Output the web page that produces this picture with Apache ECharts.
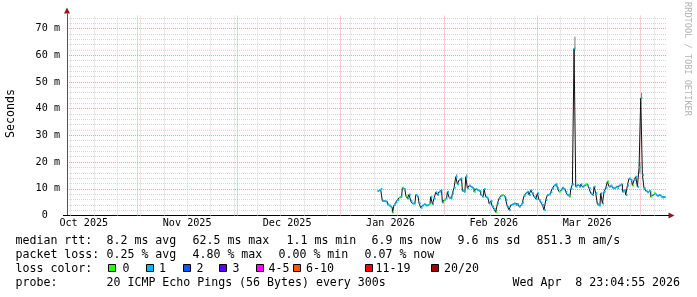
<!DOCTYPE html>
<html><head><meta charset="utf-8">
<script src="https://cdn.jsdelivr.net/npm/echarts@6.0.0/dist/echarts.min.js"></script>
<style>html,body{margin:0;padding:0;background:#fff}#c{width:697px;height:297px}</style>
</head><body><div id="c"></div>
<script>
// ---------- DATA ----------
const axisStart = '2025-10-10T23:04:55Z';
const axisEnd = '2026-04-08T23:04:55Z';
const firstSample = '2026-01-12T08:00:00Z';
const sampleStepHours = 12;

// median round-trip time per sample, in ms
const medianMs = [
  9.2, 9.5, 9.9, 5.4, 5.4, 5.2, 4.2, 3.7, 3.0, 1.1,
  3.9, 4.9, 5.8, 6.7, 7.0, 10.4, 9.9, 7.4, 6.4, 7.9,
  5.4, 4.5, 4.5, 7.7, 7.0, 4.5, 2.9, 3.7, 4.2, 3.7,
  3.9, 4.2, 7.0, 4.2, 6.4, 8.7, 7.7, 8.9, 9.5, 4.9,
  5.8, 6.4, 8.9, 6.7, 6.4, 8.3, 10.4, 14.5, 11.7, 13.3,
  13.9, 9.2, 8.9, 14.5, 10.2, 11.2, 10.8, 10.2, 8.9, 9.9,
  9.5, 9.2, 7.7, 7.0, 9.9, 7.0, 6.4, 4.5, 5.4, 3.3,
  2.4, 1.2, 4.5, 6.4, 7.4, 7.7, 7.0, 5.8, 3.3, 2.1,
  3.9, 4.2, 4.5, 3.9, 4.2, 3.3, 3.9, 4.9, 7.4, 8.3,
  8.9, 7.7, 9.5, 8.3, 7.0, 6.2, 8.3, 5.8, 4.9, 3.9,
  2.1, 5.8, 7.7, 7.9, 8.7, 10.2, 11.2, 11.7, 10.2, 8.9,
  9.5, 10.4, 9.9, 8.9, 7.7, 7.0, 9.9, 11.7, 62.5, 10.8,
  11.4, 10.8, 11.7, 10.8, 11.2, 11.7, 11.2, 10.2, 8.3, 7.7,
  10.8, 8.3, 4.2, 3.7, 8.3, 4.5, 8.9, 10.4, 12.7, 10.8,
  11.2, 10.4, 10.2, 10.8, 10.2, 11.2, 11.7, 8.9, 9.5, 7.7,
  11.2, 13.9, 13.3, 11.2, 13.3, 14.5, 10.8, 18.0, 44.0, 15.2,
  10.2, 9.2, 8.7, 9.2, 7.0, 7.7, 8.3, 7.7, 7.4, 7.7,
  7.0, 6.7, 6.9
];
// lost pings (of 20) per sample
const lossCount = [
  1,1,1,1,1,1,1,1,1,0,
  1,1,1,0,1,0,1,0,1,1,
  1,1,1,1,1,1,1,1,1,1,
  1,0,1,1,1,1,1,1,1,1,
  0,1,1,1,1,1,1,1,1,1,
  1,1,1,1,1,1,1,1,0,1,
  1,1,1,1,1,1,1,1,1,1,
  1,0,1,1,1,0,1,1,1,1,
  1,1,1,1,1,1,1,1,1,1,
  1,1,1,1,1,1,1,1,1,1,
  1,1,1,1,1,1,1,1,1,0,
  1,1,1,1,1,0,1,1,1,1,
  1,1,1,1,1,0,1,1,1,1,
  1,1,1,1,1,1,1,1,0,1,
  1,1,1,1,1,1,1,1,1,1,
  1,1,1,0,1,1,1,1,1,1,
  1,1,1,1,0,1,0,1,1,1,
  1,1,1
];
// visible smoke (ping spread) around a few samples
const smokeIdx = [47, 53, 118, 157, 158];
const smokeLo  = [14.5, 14.5, 62.5, 15.8, 44.0];
const smokeHi  = [15.4, 15.4, 67.0, 20.0, 46.0];

const monthStarts = ['2025-11-01','2025-12-01','2026-01-01','2026-02-01','2026-03-01','2026-04-01'];
const monthLabelDates = ['2025-10-16','2025-11-16','2025-12-16','2026-01-16','2026-02-16','2026-03-16'];
const monthLabels = ['Oct 2025','Nov 2025','Dec 2025','Jan 2026','Feb 2026','Mar 2026'];
const yTicks = [0, 10, 20, 30, 40, 50, 60, 70];
const yTickLabels = ['0  ', '10 m', '20 m', '30 m', '40 m', '50 m', '60 m', '70 m'];

const lossColors = ['#26ff00','#00b8ff','#0059ff','#5e00ff','#ff00ff','#ff5500','#ff0000','#a10000'];
const lossLabels = ['0','1','2','3','4-5','6-10','11-19','20/20'];

const statsRow1 = ['median rtt:', '8.2 ms avg', '62.5 ms max', '1.1 ms min', '6.9 ms now', '9.6 ms sd', '851.3 m am/s'];
const statsRow2 = ['packet loss:', '0.25 % avg', '4.80 % max', '0.00 % min', '0.07 % now'];
const statsRow3 = ['loss color:'];
const statsRow4 = ['probe:', '20 ICMP Echo Pings (56 Bytes) every 300s', 'Wed Apr  8 23:04:55 2026'];
const yAxisTitle = 'Seconds';
const watermark = 'RRDTOOL / TOBI OETIKER';

// ---------- BUILD ----------
const DAY = 86400000;
const START = Date.parse(axisStart), END = Date.parse(axisEnd);
const T0 = Date.parse(firstSample), STEP = sampleStepHours * 3600000;
const ts = medianMs.map((_, i) => T0 + i * STEP);
const monthTs = monthStarts.map(d => Date.parse(d + 'T00:00:00Z'));
const monthLabelTs = monthLabelDates.map(d => Date.parse(d + 'T00:00:00Z'));
const weekTs = [];
for (let t = Date.parse('2025-10-12T00:00:00Z'); t < END; t += 7 * DAY) {
  if (monthTs.indexOf(t) < 0) weekTs.push(t);
}

function lossClass(n) {
  if (n <= 3) return n;
  if (n <= 5) return 4;
  if (n <= 10) return 5;
  if (n <= 19) return 6;
  return 7;
}

const MONO = '"DejaVu Sans Mono", monospace';
const LEG_FS = 11.6, AX_FS = 10.15;
const Y_MAX = 75;

const graphics = [];
function txt(x, y, s) {
  graphics.push({type:'text', x, y, silent:true,
    style:{text:s, font: LEG_FS + 'px ' + MONO, fill:'#000', align:'left', verticalAlign:'middle'}});
}
const rowY = [241, 255, 269, 283.3];
const row1X = [15.5, 106.5, 192.5, 286.5, 371.5, 457.5, 536.5];
const row2X = [15.5, 106.5, 192.5, 278.5, 364.5];
const row4X = [15.5, 106.5, 512.5];
statsRow1.forEach((s, i) => txt(row1X[i], rowY[0], s));
statsRow2.forEach((s, i) => txt(row2X[i], rowY[1], s));
txt(15.5, rowY[2], statsRow3[0]);
statsRow4.forEach((s, i) => txt(row4X[i], rowY[3], s));
const boxX = [108.3, 145.7, 182.7, 219.3, 256, 292.7, 365, 430.7];
const boxLabelX = [122.5, 159, 196.5, 232.5, 268.5, 306, 375.5, 444];
lossLabels.forEach((l, i) => {
  graphics.push({type:'rect', silent:true, shape:{x: Math.round(boxX[i]) + 0.5, y: 264.5, width: 7, height: 7},
    style:{fill: lossColors[i], stroke:'#000', lineWidth:1}});
  txt(boxLabelX[i], rowY[2], l);
});
graphics.push({type:'text', x: 10.5, y: 113.5, rotation: Math.PI/2, silent:true,
  style:{text: yAxisTitle, font: LEG_FS + 'px ' + MONO, fill:'#000', align:'center', verticalAlign:'middle'}});
graphics.push({type:'text', x: 687.5, y: 59, rotation: -Math.PI/2, silent:true,
  style:{text: watermark, font: '8.6px ' + MONO, fill:'#b4b4b4', align:'center', verticalAlign:'middle'}});
graphics.push({type:'polygon', silent:true, shape:{points:[[64,13.5],[70,13.5],[67,7.5]]}, style:{fill:'#8b1a1a'}});
graphics.push({type:'polygon', silent:true, shape:{points:[[668.5,212.5],[668.5,218.5],[674.5,215.5]]}, style:{fill:'#8b1a1a'}});
graphics.push({type:'line', silent:true, shape:{x1:67.5, y1:13.5, x2:67.5, y2:16}, style:{stroke:'#555', lineWidth:1}});
graphics.push({type:'line', silent:true, shape:{x1:63, y1:215.5, x2:669, y2:215.5}, style:{stroke:'#000', lineWidth:1}});

const gridGray = '#d6d6d6', gridRed = '#f0a0a0';
function vline(color) {
  return (p, api) => {
    const a = api.coord([api.value(0), 0]);
    const b = api.coord([api.value(0), Y_MAX]);
    const x = Math.round(a[0]) + 0.5;
    return {type:'line', silent:true, shape:{x1:x, y1:a[1], x2:x, y2:b[1]},
      style:{stroke: color, lineWidth:1, lineDash:[1,1]}};
  };
}

const chart = echarts.init(document.getElementById('c'), null, {renderer:'canvas'});
chart.setOption({
  animation: false,
  backgroundColor: '#fff',
  grid: {left: 67, right: 30, top: 15.2, bottom: 81.5},
  xAxis: [
    {type:'value', min:START, max:END, position:'bottom',
     axisLine:{show:true, onZero:false, lineStyle:{color:'#000', width:1}},
     axisTick:{show:false},
     axisLabel:{customValues: monthLabelTs, formatter: v => { const k = monthLabelTs.indexOf(v); return k >= 0 ? monthLabels[k] : ''; },
       fontFamily: MONO, fontSize: AX_FS, color:'#000', margin: 3, hideOverlap:false},
     splitLine:{show:false}}
  ],
  yAxis: [
    {type:'value', min:0, max:Y_MAX, interval:2, position:'left', axisLine:{show:false}, axisTick:{show:false},
     axisLabel:{show:false}, splitLine:{show:true, showMinLine:false, showMaxLine:false,
       lineStyle:{color: gridGray, type:[1,1], width:1}}},
    {type:'value', min:0, max:Y_MAX, interval:10, position:'left',
     axisLine:{show:true, onZero:false, lineStyle:{color:'#555', width:1}}, axisTick:{show:false},
     axisLabel:{formatter: v => { const k = yTicks.indexOf(v); return k >= 0 ? yTickLabels[k] : ''; },
       fontFamily: MONO, fontSize: AX_FS, color:'#000', margin: 7},
     splitLine:{show:true, showMinLine:false, showMaxLine:false, lineStyle:{color: gridRed, type:[1,1], width:1}}}
  ],
  series: [
    {type:'custom', name:'weeks', xAxisIndex:0, yAxisIndex:1, z:1, silent:true,
     data: weekTs.map(t => [t]), encode:{x:0}, renderItem: vline(gridGray)},
    {type:'custom', name:'months', xAxisIndex:0, yAxisIndex:1, z:1, silent:true,
     data: monthTs.map(t => [t]), encode:{x:0}, renderItem: vline(gridRed)},
    {type:'custom', name:'smoke', xAxisIndex:0, yAxisIndex:1, z:2, clip:true,
     data: smokeIdx.map((k, i) => [ts[k], smokeLo[i], smokeHi[i]]),
     encode:{x:0, y:[1,2]},
     renderItem: (p, api) => {
       const a = api.coord([api.value(0) - STEP*0.35, api.value(2)]);
       const b = api.coord([api.value(0) + STEP*0.35, api.value(1)]);
       return {type:'rect', shape:{x:a[0], y:a[1], width:b[0]-a[0], height:b[1]-a[1]}, style:{fill:'#8e8e8e'}};
     }},
    {type:'line', name:'range', xAxisIndex:0, yAxisIndex:1, z:3, step:'middle', symbol:'none',
     data: ts.map((t, i) => [t, medianMs[i]]),
     lineStyle:{color:'#111', width:1}},
    {type:'custom', name:'median', xAxisIndex:0, yAxisIndex:1, z:4, clip:true,
     data: ts.map((t, i) => [t, medianMs[i], lossCount[i]]),
     encode:{x:0, y:1},
     renderItem: (p, api) => {
       const a = api.coord([api.value(0) - STEP/2, api.value(1)]);
       const b = api.coord([api.value(0) + STEP/2, api.value(1)]);
       return {type:'line', shape:{x1:a[0], y1:a[1], x2:b[0], y2:b[1]},
         style:{stroke: lossColors[lossClass(api.value(2))], lineWidth:2}};
     }}
  ],
  graphic: graphics
});
</script>
</body></html>
